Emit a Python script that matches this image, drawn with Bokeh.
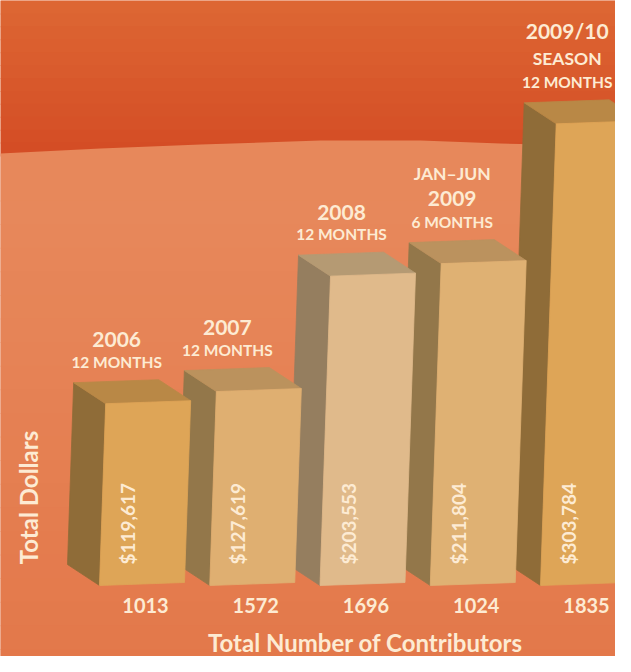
from bokeh.plotting import figure
from bokeh.models import Range1d
from bokeh.core.properties import value
from bokeh.embed import file_html
from bokeh.resources import INLINE
import math

# ---------------- data ----------------
years = ["2006", "2007", "2008", "2009", "2009/10"]
durations = ["12 MONTHS", "12 MONTHS", "12 MONTHS", "6 MONTHS", "12 MONTHS"]
qualifiers = ["", "", "", "JAN\u2013JUN", "SEASON"]
dollars = [119617, 127619, 203553, 211804, 303784]
contributors = [1013, 1572, 1696, 1024, 1835]
y_title = "Total Dollars"
x_title = "Total Number of Contributors"

# ---------------- styles ----------------
front_colors = ["#DEA557", "#DFAF71", "#E0BA8B", "#DFB173", "#DEA557"]
side_colors = ["#8F6C38", "#93774A", "#957E5F", "#93774A", "#8F6C38"]
top_colors = ["#B98846", "#BB925D", "#B59A73", "#BB925E", "#B98846"]
TXT = "#FDEBD3"
FONT = value("Lato")

K = 658.0          # dollars per pixel
BASE = 585         # picture y of the bar baseline


def yd(ref_y):
    return (BASE - ref_y) * K


def px(h):
    return h * K


def mix(c1, c2, t):
    a = [int(c1[i:i + 2], 16) for i in (1, 3, 5)]
    b = [int(c2[i:i + 2], 16) for i in (1, 3, 5)]
    return "#%02X%02X%02X" % tuple(round(a[j] + (b[j] - a[j]) * t) for j in range(3))


p = figure(width=615, height=656, x_range=Range1d(0, 615),
           y_range=Range1d(yd(656), yd(0)), output_backend="svg",
           toolbar_location=None, min_border=0)
p.axis.visible = False
p.grid.visible = False
p.outline_line_color = None
p.background_fill_color = "#E3794A"

# ---------------- background ----------------
n_top = 12
for j in range(n_top):
    ya, yb = j * 155 / n_top, (j + 1) * 155 / n_top + 1
    c = mix("#DD6633", "#D44D25", j / (n_top - 1))
    p.quad(left=0, right=640, top=yd(ya), bottom=yd(yb), fill_color=c, line_color=None)

curve = [(0, 153), (100, 148), (200, 144), (320, 140), (420, 140), (500, 143), (640, 146)]
lx = [c[0] for c in curve] + [640, 0]
ly = [yd(c[1]) for c in curve] + [yd(201), yd(201)]
p.patch(lx, ly, fill_color="#E7885B", line_color=None)

n_low = 20
for j in range(n_low):
    ya = 200 + j * 472 / n_low
    yb = ya + 472 / n_low + 1
    c = mix("#E7885B", "#E3784A", j / (n_low - 1))
    p.quad(left=0, right=640, top=yd(ya), bottom=yd(yb), fill_color=c, line_color=None)

# ---------------- bars ----------------
W, RISE, SKEW, DX, DY = 85, 3, 0.034, -32, 21
fx, fy, sx, sy, tx, ty = [], [], [], [], [], []
x0s = []
for i, v in enumerate(dollars):
    H = v / K
    x0 = 99 + 110.25 * i
    x0s.append(x0)
    bl = (x0, 0.0)
    br = (x0 + W, px(RISE))
    tr = (x0 + W + SKEW * H, v + px(RISE))
    tl = (x0 + SKEW * H, v)

    def back(q):
        return (q[0] + DX, q[1] + px(DY))

    front = [bl, br, tr, tl]
    side = [bl, tl, back(tl), back(bl)]
    top = [tl, tr, back(tr), back(tl)]
    fx.append([q[0] for q in front]); fy.append([q[1] for q in front])
    sx.append([q[0] for q in side]); sy.append([q[1] for q in side])
    tx.append([q[0] for q in top]); ty.append([q[1] for q in top])

p.patches(sx, sy, fill_color=side_colors, line_color=side_colors, line_width=0.8)
p.patches(tx, ty, fill_color=top_colors, line_color=top_colors, line_width=0.8)
p.patches(fx, fy, fill_color=front_colors, line_color=front_colors, line_width=0.8)

# ---------------- texts ----------------
# dollar labels inside bars
p.text(x=[x + 28 for x in x0s], y=[px(21)] * len(dollars),
       text=["$" + format(v, ",") for v in dollars], angle=math.pi / 2,
       text_align="left", text_baseline="middle", text_color=TXT,
       text_font=FONT, text_font_size="19px", text_font_style="bold")

# contributor counts
p.text(x=[x + 46 for x in x0s], y=[yd(605)] * len(contributors),
       text=[str(c) for c in contributors], text_align="center",
       text_baseline="middle", text_color=TXT, text_font=FONT,
       text_font_size="20px", text_font_style="bold")

# period labels above bars
big_x, big_y, big_t = [], [], []
mid_x, mid_y, mid_t = [], [], []
sm_x, sm_y, sm_t = [], [], []
for i, v in enumerate(dollars):
    H = v / K
    cx = x0s[i] + SKEW * H + 11
    top = v
    sm_x.append(cx); sm_y.append(top + px(42)); sm_t.append(durations[i])
    if qualifiers[i] == "SEASON":
        mid_x.append(cx); mid_y.append(top + px(65)); mid_t.append(qualifiers[i])
        big_x.append(cx); big_y.append(top + px(93)); big_t.append(years[i])
    elif qualifiers[i]:
        big_x.append(cx); big_y.append(top + px(65)); big_t.append(years[i])
        mid_x.append(cx); mid_y.append(top + px(90)); mid_t.append(qualifiers[i])
    else:
        big_x.append(cx); big_y.append(top + px(64)); big_t.append(years[i])

p.text(x=big_x, y=big_y, text=big_t, text_align="center", text_baseline="middle",
       text_color=TXT, text_font=FONT, text_font_size="21px", text_font_style="bold")
p.text(x=mid_x, y=mid_y, text=mid_t, text_align="center", text_baseline="middle",
       text_color=TXT, text_font=FONT, text_font_size="17.5px", text_font_style="bold")
p.text(x=sm_x, y=sm_y, text=sm_t, text_align="center", text_baseline="middle",
       text_color=TXT, text_font=FONT, text_font_size="15.5px", text_font_style="bold")

# axis titles
p.text(x=[28], y=[yd(497)], text=[y_title], angle=math.pi / 2, text_align="center",
       text_baseline="middle", text_color=TXT, text_font=FONT,
       text_font_size="24px", text_font_style="bold")
p.text(x=[365], y=[yd(642)], text=[x_title], text_align="center",
       text_baseline="middle", text_color=TXT, text_font=FONT,
       text_font_size="24px", text_font_style="bold")

open("out.html", "w").write(file_html(p, INLINE))
